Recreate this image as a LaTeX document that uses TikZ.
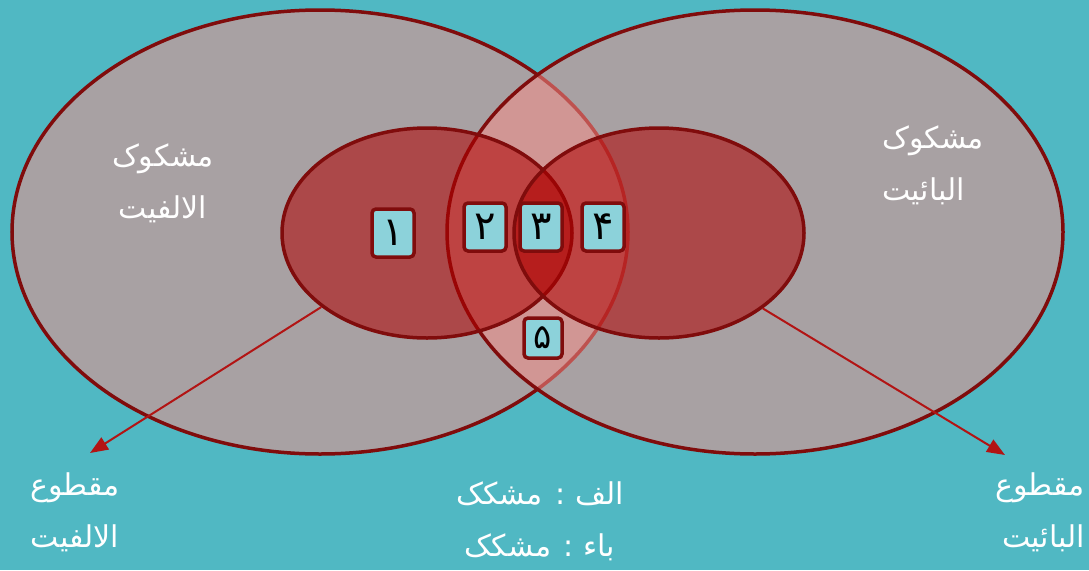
\documentclass[tikz,border=0pt]{standalone}
\usepackage{fontspec}
\usetikzlibrary{shapes.geometric,arrows.meta}
\TeXXeTstate=1
\newfontfamily\arabicfont[Script=Arabic]{DejaVu Sans}
\definecolor{bgteal}{RGB}{80,184,195}
\definecolor{bigfill}{RGB}{244,142,137}
\definecolor{innerfill}{RGB}{176,0,0}
\definecolor{edgered}{RGB}{128,12,12}
\definecolor{boxfill}{RGB}{140,210,218}
\definecolor{arrowred}{RGB}{178,20,20}
\tikzset{
  bigell/.style={ellipse, draw=edgered, line width=3.5pt, fill=bigfill, fill opacity=0.54, minimum width=616pt, minimum height=444pt, inner sep=0pt},
  innerell/.style={ellipse, draw=edgered, line width=3.5pt, fill=innerfill, fill opacity=0.55, minimum width=290pt, minimum height=210pt, inner sep=0pt},
  numbox/.style={draw=edgered, line width=3.5pt, fill=boxfill, rounded corners=4pt, minimum width=42pt, minimum height=48pt, inner sep=0pt, text=black, font=\arabicfont\fontsize{40}{44}\selectfont},
  lbl/.style={text=white, inner sep=0pt, font=\arabicfont\fontsize{30}{52}\selectfont},
  pointer/.style={draw=arrowred, line width=2pt, -{Triangle[length=18pt,width=14pt]}}
}
\begin{document}
\begin{tikzpicture}[x=1pt,y=-1pt]
\fill[bgteal] (0,0) rectangle (1089,570);
\useasboundingbox (0,0) rectangle (1089,570);
\node[bigell] (bigL) at (320,232) {};
\node[bigell] (bigR) at (755,232) {};
\node[innerell] (inL) at (427,233) {};
\node[innerell] (inR) at (659,233) {};
\node[numbox] (b1) at (393,233) {\beginR ۱\endR};
\node[numbox] (b2) at (485,227) {\beginR ۲\endR};
\node[numbox] (b3) at (541,227) {\beginR ۳\endR};
\node[numbox] (b4) at (603,227) {\beginR ۴\endR};
\node[numbox, minimum width=38pt, minimum height=40pt, font=\arabicfont\fontsize{34}{38}\selectfont] (b5) at (543,338) {\beginR ۵\endR};
\coordinate (endL) at (90,453);
\coordinate (endR) at (1005,455);
\draw[pointer] (inL.215.8) -- (endL);
\draw[pointer] (inR.324.7) -- (endR);
\node[lbl, align=center] (tlabel) at (163,183) {\beginR مشکوک\endR\\\beginR الالفیت\endR};
\node[lbl, align=left, anchor=west] (trlabel) at (882,165) {\beginR مشکوک\endR\\\beginR البائیت\endR};
\node[lbl, align=center] (bllabel) at (75,512) {\beginR مقطوع\endR\\\beginR الالفیت\endR};
\node[lbl, align=right, anchor=east] (brlabel) at (1085,512) {\beginR مقطوع\endR\\\beginR البائیت\endR};
\node[lbl, align=center] (bclabel) at (540,521) {\beginR الف : مشکک\endR\\\beginR باء : مشکک\endR};
\end{tikzpicture}
\end{document}
